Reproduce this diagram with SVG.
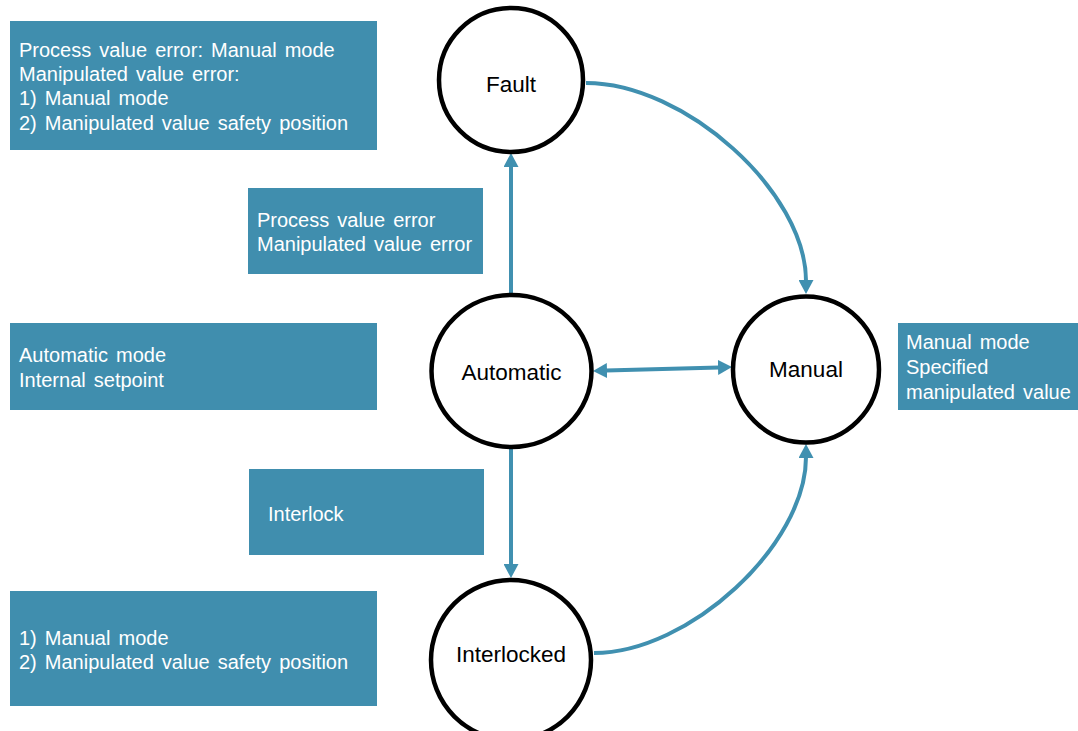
<svg xmlns="http://www.w3.org/2000/svg" width="1078" height="731" viewBox="0 0 1078 731">
  <style>
    .box { fill: #408EAE; }
    .box-text { fill: #ffffff; font-family: "Liberation Sans", Arial, sans-serif; font-size: 20px; word-spacing: 2.5px; }
    .state { fill: #ffffff; stroke: #000000; stroke-width: 4.5; }
    .state-text { fill: #000000; font-family: "Liberation Sans", Arial, sans-serif; font-size: 22.5px; text-anchor: middle; }
    .link { fill: none; stroke: #4090B0; stroke-width: 4; }
  </style>
  <defs>
    <marker id="arrow" viewBox="0 0 14 15" refX="1" refY="7.5" markerWidth="14" markerHeight="15" markerUnits="userSpaceOnUse" orient="auto-start-reverse">
      <path d="M0,0 L14,7.5 L0,15 z" fill="#4090B0"/>
    </marker>
  </defs>

  <rect width="1078" height="731" fill="#ffffff"/>

  <!-- info panels -->
  <g id="panel-fault-actions">
    <rect class="box" x="10" y="21" width="367" height="129"/>
    <text class="box-text" x="19" y="57">Process value error: Manual mode</text>
    <text class="box-text" x="19" y="81">Manipulated value error:</text>
    <text class="box-text" x="19" y="105">1) Manual mode</text>
    <text class="box-text" x="19" y="129.5">2) Manipulated value safety position</text>
  </g>
  <g id="panel-fault-triggers">
    <rect class="box" x="248" y="188" width="235" height="86"/>
    <text class="box-text" x="257" y="227">Process value error</text>
    <text class="box-text" x="257" y="251">Manipulated value error</text>
  </g>
  <g id="panel-automatic">
    <rect class="box" x="10" y="323" width="367" height="87"/>
    <text class="box-text" x="19" y="362">Automatic mode</text>
    <text class="box-text" x="19" y="387">Internal setpoint</text>
  </g>
  <g id="panel-interlock-trigger">
    <rect class="box" x="249" y="469" width="235" height="86"/>
    <text class="box-text" x="268" y="521">Interlock</text>
  </g>
  <g id="panel-interlock-actions">
    <rect class="box" x="10" y="591" width="367" height="115"/>
    <text class="box-text" x="19" y="645">1) Manual mode</text>
    <text class="box-text" x="19" y="669">2) Manipulated value safety position</text>
  </g>
  <g id="panel-manual">
    <rect class="box" x="898" y="323" width="180" height="87"/>
    <text class="box-text" x="906" y="349">Manual mode</text>
    <text class="box-text" x="906" y="374">Specified</text>
    <text class="box-text" x="906" y="399">manipulated value</text>
  </g>

  <!-- transitions -->
  <g id="connectors">
    <path class="link" d="M511,295 L511,166" marker-end="url(#arrow)"/>
    <path class="link" d="M511,449 L511,565" marker-end="url(#arrow)"/>
    <path class="link" d="M606,370.6 L719,367.4" marker-start="url(#arrow)" marker-end="url(#arrow)"/>
    <path class="link" d="M586,83 C685,83 806,192 806,281" marker-end="url(#arrow)"/>
    <path class="link" d="M594,653 C689,653 806,545 806,457" marker-end="url(#arrow)"/>
  </g>

  <!-- states -->
  <g id="state-fault">
    <circle class="state" cx="511" cy="80" r="72"/>
    <text class="state-text" x="511" y="92">Fault</text>
  </g>
  <g id="state-automatic">
    <ellipse class="state" cx="511.5" cy="371" rx="80" ry="76"/>
    <text class="state-text" x="511.5" y="380">Automatic</text>
  </g>
  <g id="state-manual">
    <circle class="state" cx="806" cy="369.5" r="73"/>
    <text class="state-text" x="806" y="377">Manual</text>
  </g>
  <g id="state-interlocked">
    <circle class="state" cx="511" cy="660" r="80"/>
    <text class="state-text" x="511" y="662">Interlocked</text>
  </g>
</svg>
